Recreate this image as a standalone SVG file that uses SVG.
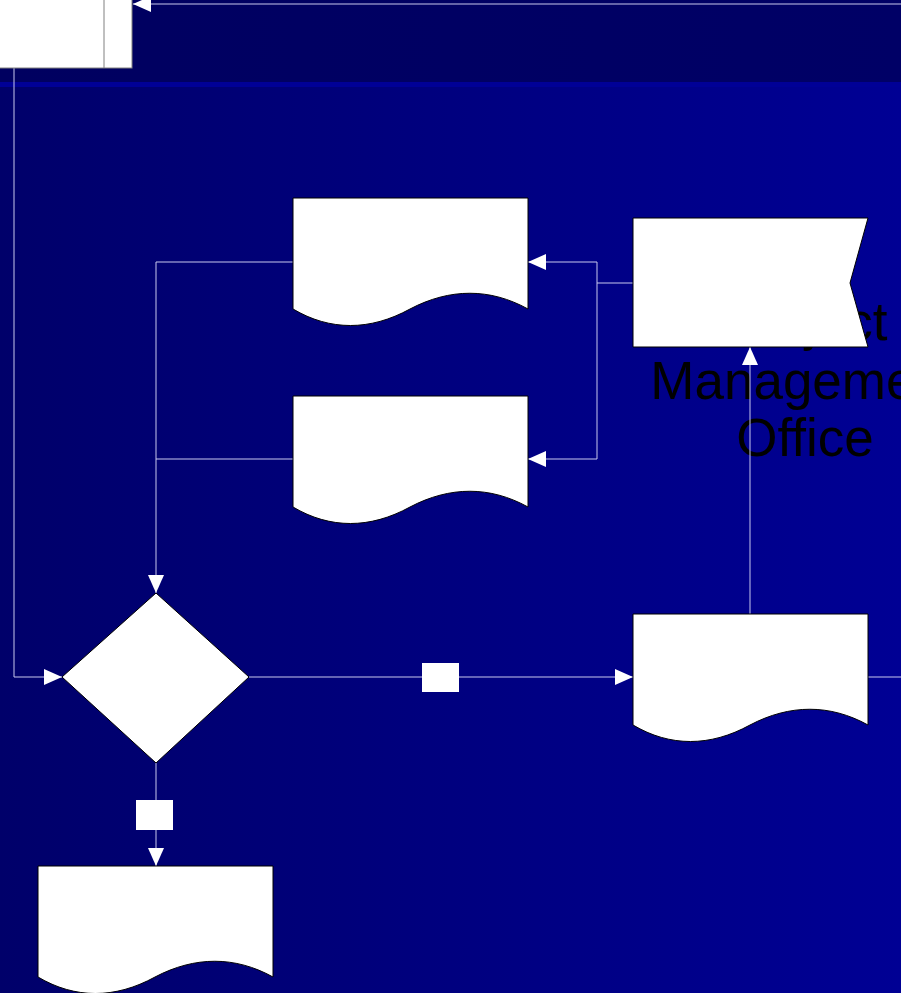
<svg xmlns="http://www.w3.org/2000/svg" width="901" height="993" viewBox="0 0 901 993">
<defs>
<linearGradient id="bg" x1="0" y1="0" x2="1" y2="0">
<stop offset="0" stop-color="#00006a"/>
<stop offset="1" stop-color="#000094"/>
</linearGradient>
<linearGradient id="band" x1="0" y1="0" x2="1" y2="0">
<stop offset="0" stop-color="#000060"/>
<stop offset="1" stop-color="#000066"/>
</linearGradient>
<marker id="ah" viewBox="0 0 18 16" refX="18" refY="8" markerWidth="18" markerHeight="16" markerUnits="userSpaceOnUse" orient="auto">
<path d="M0,0 L18,8 L0,16 Z" fill="#ffffff"/>
</marker>
<path id="doc" d="M0,0 H235 V111 C197,90 157,90 117,111 C77,133 37,133 0,111 Z"/>
</defs>
<style>
.shape{fill:#ffffff;stroke:#000000;stroke-width:1}
.conn{fill:none;stroke:#c8c8ee;stroke-width:1}
.lbl{fill:#ffffff;stroke:none}
.txt{font-family:"Liberation Sans",Arial,sans-serif;font-size:53px;fill:#000000;text-anchor:middle}
</style>
<rect x="0" y="0" width="901" height="993" fill="url(#bg)"/>
<rect x="0" y="0" width="901" height="82" fill="url(#band)"/>
<rect x="0" y="82" width="901" height="5" fill="#000096"/>
<text class="txt" x="805" y="340">Project</text>
<text class="txt" x="805" y="399">Management</text>
<text class="txt" x="805" y="456">Office</text>
<g id="connectors">
<path class="conn" d="M901,4 H133" marker-end="url(#ah)"/>
<path class="conn" d="M14,68 V677 H62" marker-end="url(#ah)"/>
<path class="conn" d="M293,262 H156 V593" marker-end="url(#ah)"/>
<path class="conn" d="M293,459 H156"/>
<path class="conn" d="M633,283 H597 V262 H528" marker-end="url(#ah)"/>
<path class="conn" d="M597,283 V459 H528" marker-end="url(#ah)"/>
<path class="conn" d="M249,677 H633" marker-end="url(#ah)"/>
<path class="conn" d="M156,763 V866" marker-end="url(#ah)"/>
<path class="conn" d="M750,614 V347" marker-end="url(#ah)"/>
<path class="conn" d="M868,677 H901"/>
<rect class="lbl" x="422" y="663" width="37" height="29"/>
<rect class="lbl" x="136" y="800" width="37" height="30"/>
</g>
<g id="node-top">
<rect x="-1" y="-1" width="133" height="69" fill="#ffffff" stroke="#808080" stroke-width="1"/>
<line x1="104" y1="0" x2="104" y2="68" stroke="#808080" stroke-width="1"/>
</g>
<g id="node-doc1"><use href="#doc" class="shape" x="293" y="198"/></g>
<g id="node-doc2"><use href="#doc" class="shape" x="293" y="396"/></g>
<g id="node-flag"><path class="shape" d="M633,218 H868 L850,283 L868,347 H633 Z"/></g>
<g id="node-decision"><path class="shape" d="M156,593 L249,677 L156,763 L62,677 Z"/></g>
<g id="node-doc3"><use href="#doc" class="shape" x="633" y="614"/></g>
<g id="node-doc4"><use href="#doc" class="shape" x="38" y="866"/></g>
</svg>
